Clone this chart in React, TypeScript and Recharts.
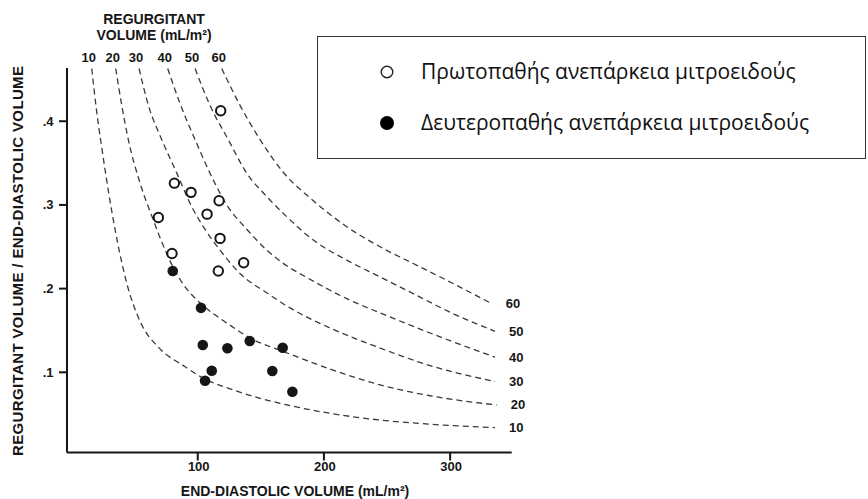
import React from 'react';
import { ComposedChart, Line, Scatter, XAxis, YAxis, Legend, LabelList } from 'recharts';

// Primary MR (open circles): EDV (mL/m2) vs RV/EDV
const primaryMR = [
  { v: 118.2, r: 0.4125 },
  { v: 81.5, r: 0.326 },
  { v: 94.7, r: 0.315 },
  { v: 116.9, r: 0.305 },
  { v: 68.8, r: 0.285 },
  { v: 107.4, r: 0.289 },
  { v: 117.7, r: 0.26 },
  { v: 79.6, r: 0.242 },
  { v: 116.3, r: 0.221 },
  { v: 136.4, r: 0.231 },
];

// Secondary MR (filled circles)
const secondaryMR = [
  { v: 80.2, r: 0.221 },
  { v: 102.6, r: 0.177 },
  { v: 104.0, r: 0.1326 },
  { v: 123.5, r: 0.1287 },
  { v: 141.2, r: 0.1374 },
  { v: 167.3, r: 0.1294 },
  { v: 111.1, r: 0.1019 },
  { v: 105.8, r: 0.09 },
  { v: 159.1, r: 0.1016 },
  { v: 175.0, r: 0.0768 },
];

// Iso-regurgitant-volume dashed curves
const curve10 = [
  { v: 16.0, r: 0.463 }, { v: 19.8, r: 0.413 }, { v: 24.2, r: 0.366 }, { v: 29.7, r: 0.312 },
  { v: 36.1, r: 0.258 }, { v: 44.0, r: 0.205 }, { v: 54.3, r: 0.161 }, { v: 70.1, r: 0.128 },
  { v: 88.6, r: 0.108 }, { v: 104.4, r: 0.093 }, { v: 128.2, r: 0.079 }, { v: 149.4, r: 0.069 },
  { v: 165.2, r: 0.063 }, { v: 204.8, r: 0.051 }, { v: 244.5, r: 0.043 }, { v: 284.1, r: 0.038 },
  { v: 335.6, r: 0.034 },
];
const curve20 = [
  { v: 35.0, r: 0.463 }, { v: 39.8, r: 0.419 }, { v: 45.0, r: 0.378 }, { v: 54.3, r: 0.326 },
  { v: 64.8, r: 0.282 }, { v: 72.5, r: 0.252 }, { v: 80.0, r: 0.227 }, { v: 89.1, r: 0.204 },
  { v: 101.8, r: 0.183 }, { v: 123.0, r: 0.159 }, { v: 141.4, r: 0.141 }, { v: 167.6, r: 0.125 },
  { v: 204.8, r: 0.104 }, { v: 244.5, r: 0.085 }, { v: 284.1, r: 0.072 }, { v: 336.9, r: 0.061 },
];
const curve30 = [
  { v: 53.5, r: 0.463 }, { v: 60.9, r: 0.419 }, { v: 71.5, r: 0.378 }, { v: 83.4, r: 0.338 },
  { v: 95.2, r: 0.298 }, { v: 104.4, r: 0.274 }, { v: 117.7, r: 0.246 }, { v: 133.5, r: 0.218 },
  { v: 154.7, r: 0.195 }, { v: 173.1, r: 0.177 }, { v: 204.8, r: 0.153 }, { v: 244.5, r: 0.129 },
  { v: 284.1, r: 0.108 }, { v: 335.6, r: 0.089 },
];
const curve40 = [
  { v: 76.2, r: 0.463 }, { v: 86.5, r: 0.419 }, { v: 97.9, r: 0.378 }, { v: 109.7, r: 0.338 },
  { v: 123.0, r: 0.3 }, { v: 138.8, r: 0.271 }, { v: 154.7, r: 0.246 }, { v: 165.2, r: 0.233 },
  { v: 191.6, r: 0.209 }, { v: 218.1, r: 0.188 }, { v: 244.5, r: 0.171 }, { v: 284.1, r: 0.147 },
  { v: 335.6, r: 0.118 },
];
const curve50 = [
  { v: 97.9, r: 0.463 }, { v: 109.7, r: 0.419 }, { v: 124.2, r: 0.378 }, { v: 138.8, r: 0.338 },
  { v: 154.7, r: 0.31 }, { v: 170.5, r: 0.286 }, { v: 191.6, r: 0.258 }, { v: 218.1, r: 0.234 },
  { v: 244.5, r: 0.214 }, { v: 270.8, r: 0.194 }, { v: 302.5, r: 0.17 }, { v: 335.6, r: 0.149 },
];
const curve60 = [
  { v: 119.0, r: 0.463 }, { v: 133.5, r: 0.419 }, { v: 149.4, r: 0.378 }, { v: 167.8, r: 0.339 },
  { v: 191.6, r: 0.305 }, { v: 218.1, r: 0.274 }, { v: 244.5, r: 0.25 }, { v: 270.8, r: 0.23 },
  { v: 297.3, r: 0.21 }, { v: 333.0, r: 0.182 },
];

const curveLabels = ['10', '20', '30', '40', '50', '60'];
const curveSets = [curve10, curve20, curve30, curve40, curve50, curve60];

const xTicks = [100, 200, 300];
const yTicks = [0.1, 0.2, 0.3, 0.4];

const seriesNames = [
  'Πρωτοπαθής ανεπάρκεια μιτροειδούς',
  'Δευτεροπαθής ανεπάρκεια μιτροειδούς',
];
const topTitle = ['REGURGITANT', 'VOLUME (mL/m²)'];
const xTitle = 'END-DIASTOLIC VOLUME (mL/m²)';
const yTitle = 'REGURGITANT VOLUME / END-DIASTOLIC VOLUME';

const AX_FONT = '"Liberation Sans", Arial, Helvetica, sans-serif';
const INK = '#161616';

const XTick = (props: any) => {
  const { x, y, payload } = props;
  return (
    <text x={x + 1} y={y + 10.5} textAnchor="middle" fontFamily={AX_FONT} fontWeight="bold" fontSize={13} fill={INK}>
      {payload.value}
    </text>
  );
};

const YTick = (props: any) => {
  const { x, y, payload } = props;
  const s = Number(payload.value).toFixed(1).replace(/^0/, '');
  return (
    <text x={x - 5.5} y={y + 4.5} textAnchor="end" fontFamily={AX_FONT} fontWeight="bold" fontSize={13} fill={INK}>
      {s}
    </text>
  );
};

const makeCurveLabel = (name: string, last: number) => (props: any) => {
  const { x, y, index } = props;
  if (index === 0) {
    return (
      <text key={`t${name}`} x={x - 3} y={y - 6.5} textAnchor="middle" fontFamily={AX_FONT} fontWeight="bold" fontSize={13} fill={INK}>
        {name}
      </text>
    );
  }
  if (index === last) {
    return (
      <text key={`e${name}`} x={x + 14} y={y + 4.5} textAnchor="start" fontFamily={AX_FONT} fontWeight="bold" fontSize={13} fill={INK}>
        {name}
      </text>
    );
  }
  return null;
};

const OpenDot = (props: any) => (
  <circle cx={props.cx} cy={props.cy} r={4.7} fill="#fff" stroke={INK} strokeWidth={2} />
);
const FilledDot = (props: any) => (
  <circle cx={props.cx} cy={props.cy} r={5.3} fill={INK} stroke="none" />
);

const LegendBox = (props: any) => {
  const payload = (props.payload || [])
    .filter((p: any) => seriesNames.includes(p.value))
    .sort((a: any, b: any) => seriesNames.indexOf(a.value) - seriesNames.indexOf(b.value));
  return (
    <div style={{ width: 549, height: 123, border: '1.5px solid #333', boxSizing: 'border-box', background: '#fff' }}>
      <svg width={546} height={120} style={{ display: 'block' }}>
        {payload.map((p: any, i: number) => {
          const cy = i === 0 ? 35 : 86;
          const filled = p.value === seriesNames[1];
          return (
            <g key={p.value}>
              {filled ? (
                <circle cx={69} cy={cy} r={7} fill="#000" />
              ) : (
                <circle cx={69} cy={cy} r={5.8} fill="#fff" stroke="#222" strokeWidth={1.4} />
              )}
              <text x={103} y={cy + 7} fontFamily='"Open Sans", "Noto Sans", sans-serif' fontSize={21} fill="#111">
                {p.value}
              </text>
            </g>
          );
        })}
      </svg>
    </div>
  );
};

export default function App() {
  return (
    <div style={{ position: 'absolute', left: 0, top: 0, width: 868, height: 499, background: '#fff' }}>
      <ComposedChart width={868} height={499} margin={{ top: 68, right: 356.3, left: 0, bottom: 0 }}>
        <XAxis
          type="number"
          dataKey="v"
          domain={[-3.6, 348.8]}
          allowDataOverflow
          ticks={xTicks}
          tickSize={8}
          tickMargin={0}
          height={46.5}
          axisLine={{ stroke: INK, strokeWidth: 2 }}
          tickLine={{ stroke: INK, strokeWidth: 2 }}
          tick={<XTick />}
        />
        <YAxis
          type="number"
          dataKey="r"
          domain={[0.0042, 0.4636]}
          allowDataOverflow
          ticks={yTicks}
          tickSize={8}
          tickMargin={0}
          width={67}
          axisLine={{ stroke: INK, strokeWidth: 2 }}
          tickLine={{ stroke: INK, strokeWidth: 2 }}
          tick={<YTick />}
        />
        {curveSets.map((c, i) => (
          <Line
            key={curveLabels[i]}
            data={c}
            dataKey="r"
            type="monotone"
            stroke="#3a3a3a"
            strokeWidth={1.3}
            strokeDasharray="6 4"
            dot={false}
            activeDot={false}
            legendType="none"
            isAnimationActive={false}
          >
            <LabelList dataKey="r" content={makeCurveLabel(curveLabels[i], c.length - 1)} />
          </Line>
        ))}
        <Scatter name={seriesNames[0]} data={primaryMR} dataKey="r" shape={<OpenDot />} isAnimationActive={false} />
        <Scatter name={seriesNames[1]} data={secondaryMR} dataKey="r" shape={<FilledDot />} isAnimationActive={false} />
        <Legend
          layout="horizontal"
          verticalAlign="middle"
          align="center"
          wrapperStyle={{ left: 317, top: 36, width: 549, height: 123 }}
          content={<LegendBox />}
        />
      </ComposedChart>
      <svg width={868} height={499} style={{ position: 'absolute', left: 0, top: 0, pointerEvents: 'none' }}>
        <text x={154} y={24} textAnchor="middle" fontFamily={AX_FONT} fontWeight="bold" fontSize={14} fill={INK}>
          {topTitle[0]}
        </text>
        <text x={154} y={39.5} textAnchor="middle" fontFamily={AX_FONT} fontWeight="bold" fontSize={14} fill={INK}>
          {topTitle[1]}
        </text>
        <text x={295} y={496} textAnchor="middle" fontFamily={AX_FONT} fontWeight="bold" fontSize={14} fill={INK}>
          {xTitle}
        </text>
        <text
          x={23}
          y={261}
          transform="rotate(-90 23 261)"
          textAnchor="middle"
          fontFamily={AX_FONT}
          fontWeight="bold"
          fontSize={15}
          textLength={390}
          lengthAdjust="spacing"
          fill={INK}
        >
          {yTitle}
        </text>
      </svg>
    </div>
  );
}
